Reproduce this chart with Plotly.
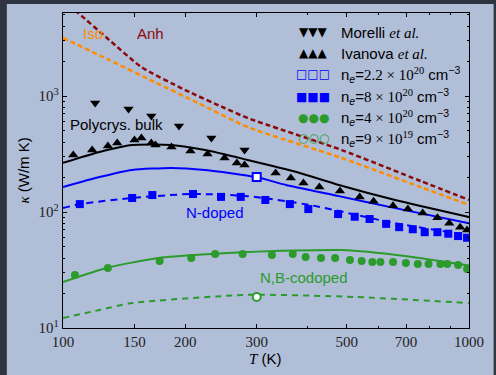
import plotly.graph_objects as go

# ---------------- data ----------------
morelli_T = [120, 145, 165, 193, 232, 280]
morelli_k = [870, 773, 672, 551, 435, 342]

ivanova_T = [106, 118, 129, 136, 150, 156, 165, 169, 185, 206, 227, 250, 268, 280,
             334, 364, 391, 428, 481, 538, 582, 650, 707, 769, 836, 894, 951, 989]
ivanova_k = [310, 342, 371, 393, 418, 435, 393, 378, 363, 336, 316, 292, 265, 254,
             217, 196, 178, 164, 152, 135, 124, 113, 106, 98, 89, 80, 74, 70]

ne22_T = [300]
ne22_k = [200]

ne8_T = [110, 148, 166, 209, 245, 274, 315, 362, 402, 476, 523, 569, 625, 673,
         727, 778, 836, 889, 940, 989]
ne8_k = [117, 132, 140, 143, 135, 135, 127, 117, 106, 96, 91, 87, 79, 74,
         71, 67, 67, 65, 62, 60]

ne4_T = [107, 129, 173, 207, 237, 277, 327, 368, 396, 432, 468, 509, 544, 578,
         605, 650, 699, 748, 795, 850, 884, 940, 989]
ne4_k = [28.6, 32.9, 37.8, 40.1, 43.5, 43.5, 42.6, 43.5, 40.9, 40.1, 40.1, 38.6, 37.8, 37.1,
         37.1, 37.1, 36.3, 35.6, 35.6, 35.6, 35.6, 34.9, 32.3]

ne09_T = [300]
ne09_k = [18.5]

# model curves
anh_T = [100, 109, 130, 156, 200, 250, 285, 486, 760, 1000]
anh_k = [6690, 5195, 3040, 1778, 1126, 788, 646, 342, 185, 127]
iso_T = [100, 130, 168, 215, 285, 486, 760, 1000]
iso_k = [3162, 2043, 1320, 870, 540, 292, 164, 115]
bulk_T = [100, 123, 148, 185, 224, 285, 376, 478, 658, 1000]
bulk_k = [265, 329, 378, 378, 342, 281, 221, 171, 127, 90.6]
fit22_T = [100, 123, 148, 185, 224, 299, 354, 478, 658, 1000]
fit22_k = [164, 200, 230, 240, 230, 200, 171, 137, 108, 80]
fit8_T = [100, 110, 148, 207, 285, 405, 658, 1000]
fit8_k = [108, 117, 132, 143, 137, 115, 80, 63]
fit4_T = [100, 128, 172, 285, 486, 695, 1000]
fit4_k = [24.9, 32.9, 40.1, 45.2, 47.0, 41.8, 34.6]
fit09_T = [100, 123, 148, 285, 526, 1000]
fit09_k = [12.2, 14.3, 16.4, 19.3, 18.5, 16.4]

x_ticks = [100, 150, 200, 300, 500, 700, 1000]
x_minor = [400, 600, 800, 900]
y_ticks = [10, 100, 1000]
y_ticktext = ["10<sup>1</sup>", "10<sup>2</sup>", "10<sup>3</sup>"]
y_minor = [20, 30, 40, 50, 60, 70, 80, 90, 200, 300, 400, 500, 600, 700, 800, 900,
           2000, 3000, 4000, 5000]

SERIF = "<span style=\"font-family:'Liberation Serif'\">"
legend_labels = [
    "Morelli " + SERIF + "<i>et al.</i></span>",
    "Ivanova " + SERIF + "<i>et al.</i></span>",
    "n<sub><i>e</i></sub>=" + SERIF + "2.2 × 10<sup>20</sup></span> cm<sup>−3</sup>",
    "n<sub><i>e</i></sub>=" + SERIF + "8 × 10<sup>20</sup></span> cm<sup>−3</sup>",
    "n<sub><i>e</i></sub>=" + SERIF + "4 × 10<sup>20</sup></span> cm<sup>−3</sup>",
    "n<sub><i>e</i></sub>=" + SERIF + "9 × 10<sup>19</sup></span> cm<sup>−3</sup>",
]
legend_glyphs = ["▼▼▼", "▲▲▲", "<b>□□□</b>", "■■■", "●●●", "<b>○○○</b>"]

BLACK = "#000000"
BLUE = "#0000ff"
GREEN = "#2b9b2b"
DRED = "#8b0a0a"
ORANGE = "#ff8c00"
legend_colors = [BLACK, BLACK, BLUE, BLUE, GREEN, GREEN]

fig = go.Figure()

def line(x, y, color, dash="solid", width=2, smoothing=0.6):
    fig.add_trace(go.Scatter(x=x, y=y, mode="lines",
                             line=dict(color=color, width=width, dash=dash,
                                       shape="spline", smoothing=smoothing),
                             showlegend=False, hoverinfo="skip"))

line(anh_T, anh_k, DRED, "5px,3px", 2.5)
line(iso_T, iso_k, ORANGE, "5px,3px", 2.5)
line(bulk_T, bulk_k, BLACK)
line(fit22_T, fit22_k, BLUE)
line(fit8_T, fit8_k, BLUE, "7px,5px")
line(fit4_T, fit4_k, GREEN)
line(fit09_T, fit09_k, GREEN, "6px,5px")

def pts(x, y, symbol, color, size=8, open_=False):
    if open_:
        m = dict(symbol=symbol, size=size, color="white", line=dict(color=color, width=2))
    else:
        m = dict(symbol=symbol, size=size, color=color, line=dict(width=0))
    fig.add_trace(go.Scatter(x=x, y=y, mode="markers", marker=m, showlegend=False))

pts(morelli_T, morelli_k, "triangle-down", BLACK, 9)
pts(ivanova_T, ivanova_k, "triangle-up", BLACK, 9)
pts(ne22_T, ne22_k, "square", BLUE, 8, True)
pts(ne8_T, ne8_k, "square", BLUE, 8)
pts(ne4_T, ne4_k, "circle", GREEN, 8)
pts(ne09_T, ne09_k, "circle", GREEN, 8, True)

# plot-area geometry (pixels) -> paper helpers
L, R, T, B = 63, 475, 13, 328
W, H = R - L, B - T
def px(x):
    return (x - L) / W
def py(y):
    return (B - y) / H

ann = []
# legend (three symbols per entry, as in the original)
leg_y = [32.3, 53.3, 74.0, 96.7, 117.7, 138.3]
for lab, gl, col, yy in zip(legend_labels, legend_glyphs, legend_colors, leg_y):
    ann.append(dict(x=px(317), y=py(yy), xref="paper", yref="paper", text=gl, showarrow=False,
                    font=dict(family="DejaVu Sans", size=12, color=col), xanchor="center", yanchor="middle"))
    ann.append(dict(x=px(343), y=py(yy), xref="paper", yref="paper", text=lab, showarrow=False,
                    font=dict(family="Liberation Sans", size=15, color="black"), xanchor="left", yanchor="middle"))

# curve labels
labels = [("Anh", 152, 33, DRED), ("Iso", 93, 33, ORANGE), ("Polycrys. bulk", 117, 125, BLACK),
          ("N-doped", 217, 212, BLUE), ("N,B-codoped", 308, 277, GREEN)]
for txt, xx, yy, col in labels:
    ann.append(dict(x=px(xx), y=py(yy), xref="paper", yref="paper", text=txt, showarrow=False,
                    font=dict(family="Liberation Sans", size=15, color=col), xanchor="center", yanchor="middle"))

# axis titles
ann.append(dict(x=px(22), y=py(171), xref="paper", yref="paper", textangle=-90, showarrow=False,
                text=SERIF + "<i>κ</i></span> (W/m K)",
                font=dict(family="Liberation Sans", size=15, color="black"), xanchor="center", yanchor="middle"))
ann.append(dict(x=px(268), y=py(358), xref="paper", yref="paper", showarrow=False,
                text=SERIF + "<i>T</i></span> (K)",
                font=dict(family="Liberation Sans", size=15, color="black"), xanchor="center", yanchor="middle"))

axis_common = dict(showline=True, linecolor="black", linewidth=1.3, mirror="ticks", ticks="inside",
                   ticklen=4, tickwidth=1, tickcolor="black", showgrid=False, zeroline=False,
                   tickfont=dict(family="Liberation Serif", size=15, color="#222"))

fig.update_layout(
    width=496, height=375,
    margin=dict(l=L, r=496 - R, t=T, b=375 - B),
    paper_bgcolor="#2e3440",
    plot_bgcolor="white",
    annotations=ann,
    shapes=[dict(type="rect", xref="paper", yref="paper", layer="below",
                 x0=px(6), x1=px(500), y0=py(380), y1=py(4),
                 fillcolor="#b0bed8", line=dict(width=0))],
    xaxis=dict(type="log", range=[2, 3], tickvals=x_ticks, ticktext=[str(v) for v in x_ticks],
               minor=dict(tickvals=x_minor, ticks="inside", ticklen=2, tickcolor="black", showgrid=False),
               **axis_common),
    yaxis=dict(type="log", range=[1, 3.7155], tickvals=y_ticks, ticktext=y_ticktext,
               minor=dict(tickvals=y_minor, ticks="inside", ticklen=2, tickcolor="black", showgrid=False),
               **axis_common),
)

fig.write_html("out.html")
